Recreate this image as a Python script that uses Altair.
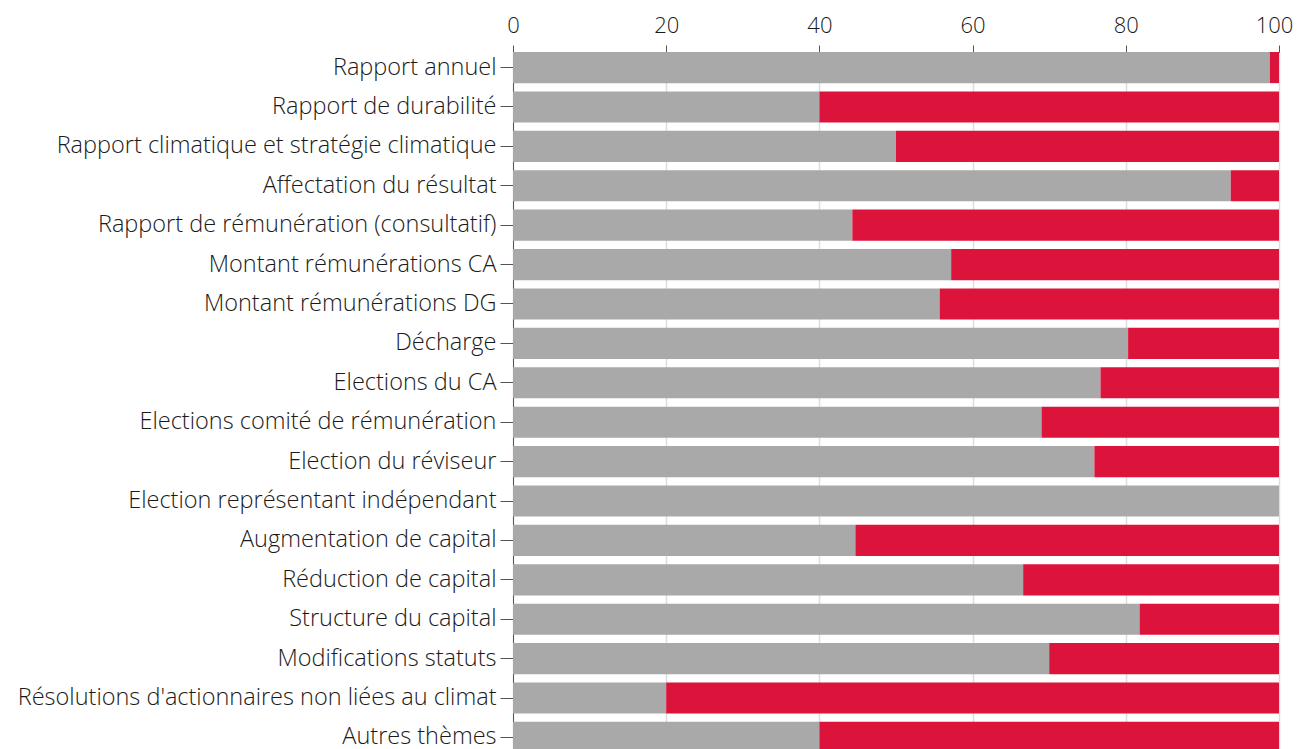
import altair as alt
import pandas as pd

categories = [
    "Rapport annuel",
    "Rapport de durabilité",
    "Rapport climatique et stratégie climatique",
    "Affectation du résultat",
    "Rapport de rémunération (consultatif)",
    "Montant rémunérations CA",
    "Montant rémunérations DG",
    "Décharge",
    "Elections du CA",
    "Elections comité de rémunération",
    "Election du réviseur",
    "Election représentant indépendant",
    "Augmentation de capital",
    "Réduction de capital",
    "Structure du capital",
    "Modifications statuts",
    "Résolutions d'actionnaires non liées au climat",
    "Autres thèmes",
]
series_names = ["Pour", "Contre"]
pour = [98.8, 40.0, 50.0, 93.7, 44.3, 57.2, 55.7, 80.3, 76.7, 69.0, 75.9, 100.0, 44.7, 66.6, 81.8, 70.0, 20.0, 40.0]
contre = [1.2, 60.0, 50.0, 6.3, 55.7, 42.8, 44.3, 19.7, 23.3, 31.0, 24.1, 0.0, 55.3, 33.4, 18.2, 30.0, 80.0, 60.0]
colors = ["#a9a9a9", "#dc143c"]
x_ticks = [0, 20, 40, 60, 80, 100]

rows = []
for c, p, n in zip(categories, pour, contre):
    rows.append({"cat": c, "serie": series_names[0], "val": p, "ord": 0})
    rows.append({"cat": c, "serie": series_names[1], "val": n, "ord": 1})
df = pd.DataFrame(rows)

FONT = "Open Sans"

chart = alt.Chart(df).mark_bar().encode(
    y=alt.Y(
        "cat:N",
        sort=categories,
        scale=alt.Scale(paddingInner=0.21, paddingOuter=0),
        axis=alt.Axis(
            title=None,
            labelFont=FONT,
            labelFontWeight=300,
            labelFontSize=23.5,
            labelColor="#1a1a1a",
            labelPadding=4,
            tickSize=13,
            tickColor="#555555",
            domainColor="#555555",
            labelLimit=600,
            grid=False,
        ),
    ),
    x=alt.X(
        "val:Q",
        stack="zero",
        scale=alt.Scale(domain=[0, 100], nice=False),
        axis=alt.Axis(
            title=None,
            orient="top",
            values=x_ticks,
            labelFont=FONT,
            labelFontWeight=300,
            labelFontSize=22,
            labelColor="#1a1a1a",
            labelPadding=8,
            labelFlush=False,
            labelOffset={"condition": {"test": "datum.value == 100", "value": -5}, "value": 0},
            tickSize=7,
            tickColor="#555555",
            domainColor="#555555",
            grid=True,
            gridColor="#dddddd",
            gridWidth=1.5,
        ),
    ),
    color=alt.Color(
        "serie:N",
        scale=alt.Scale(domain=series_names, range=colors),
        legend=None,
    ),
    order=alt.Order("ord:Q"),
).properties(
    width=766,
    height=701,
    autosize=alt.AutoSizeParams(type="none"),
    padding={"left": 505, "top": 44, "right": 14, "bottom": 0},
).configure_view(stroke=None)

chart.save("out.html", embed_options={"renderer": "svg", "actions": False})
